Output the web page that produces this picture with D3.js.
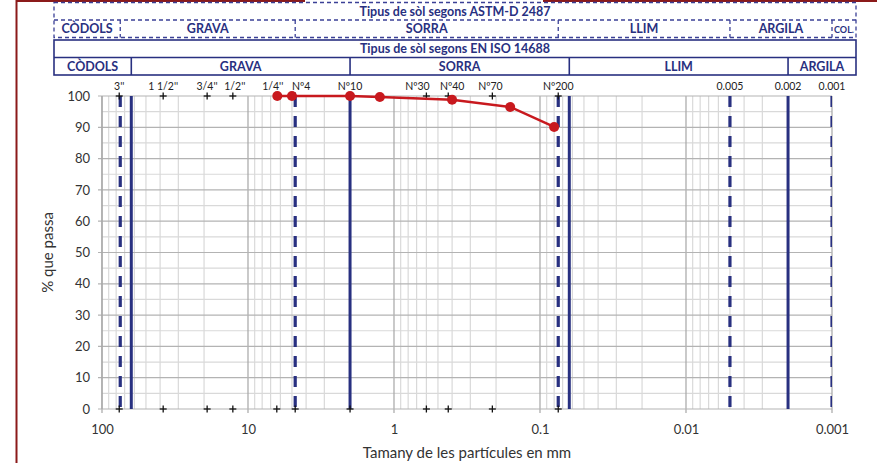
<!DOCTYPE html>
<html><head><meta charset="utf-8">
<script src="https://cdn.jsdelivr.net/npm/d3@7"></script>
<style>
html,body{margin:0;padding:0;background:#fff;}
svg{display:block;font-family:Lato,"Open Sans",sans-serif;}
</style></head>
<body>
<svg id="chart" width="877" height="463"></svg>
<script>
// ---- data ----
const xTicks = [100, 10, 1, 0.1, 0.01, 0.001];
const xTickLabels = ["100", "10", "1", "0.1", "0.01", "0.001"];
const yTicks = [0, 10, 20, 30, 40, 50, 60, 70, 80, 90, 100];
const sieveLabels = ["3''", "1 1/2''", "3/4''", "1/2''", "1/4''", "Nº4", "Nº10", "Nº30", "Nº40", "Nº70", "Nº200"];
const sieveSizes = [76.2, 38.1, 19.05, 12.7, 6.35, 4.75, 2.0, 0.6, 0.425, 0.212, 0.075];
const fineLabels = ["0.005", "0.002", "0.001"];
const fineSizes = [0.005, 0.002, 0.001];
const sampleSizes = [6.3, 5, 2, 1.25, 0.4, 0.16, 0.08];
const samplePass = [100, 100, 100, 99.7, 98.8, 96.5, 90.1];
const astmTitle = "Tipus de sòl segons ASTM-D 2487";
const astmCats = ["CÒDOLS", "GRAVA", "SORRA", "LLIM", "ARGILA", "COL."];
const astmBounds = [75, 4.75, 0.075, 0.005, 0.001];
const isoTitle = "Tipus de sòl segons EN ISO 14688";
const isoCats = ["CÒDOLS", "GRAVA", "SORRA", "LLIM", "ARGILA"];
const isoBounds = [63, 2, 0.063, 0.002];

// ---- layout ----
const W = 877, H = 463;
const plot = {l: 102, r: 832, t: 96, b: 409};
const hdr = {l: 54, r: 856};
const navy = "#283080";
// horizontal nudges (px) of sieve labels to avoid collisions, as in the reference
const sieveLabelNudge = [0, 0, 0, 2, -4, 6, 0, -9, 4, -2, 0];
const svg = d3.select("#chart");

const x = d3.scaleLog().domain([100, 0.001]).range([plot.l, plot.r]);
const y = d3.scaleLinear().domain([0, 100]).range([plot.b, plot.t]);

// frame lines (dark red)
svg.append("line").attr("x1", 16.5).attr("x2", 16.5).attr("y1", 0).attr("y2", H)
  .attr("stroke", "#8b1a1a").attr("stroke-width", 2);
svg.append("line").attr("x1", 16).attr("x2", 305).attr("y1", 1).attr("y2", 1)
  .attr("stroke", "#8b1a1a").attr("stroke-width", 2);
svg.append("line").attr("x1", 543).attr("x2", W).attr("y1", 1).attr("y2", 1)
  .attr("stroke", "#8b1a1a").attr("stroke-width", 2);

// ---- header tables ----
function headerTable(top, title, cats, bounds, dashed) {
  const g = svg.append("g");
  const rowH = 17.5;
  const edges = [hdr.l, ...bounds.map(b => x(b)), hdr.r];
  const stroke = dashed ? "#3b4096" : navy;
  const sw = dashed ? 1.3 : 1.6;
  const da = dashed ? "4,3" : null;
  g.append("rect").attr("x", hdr.l).attr("y", top).attr("width", hdr.r - hdr.l).attr("height", rowH * 2)
    .attr("fill", "none").attr("stroke", stroke).attr("stroke-width", sw).attr("stroke-dasharray", da);
  g.append("line").attr("x1", hdr.l).attr("x2", hdr.r).attr("y1", top + rowH).attr("y2", top + rowH)
    .attr("stroke", stroke).attr("stroke-width", sw).attr("stroke-dasharray", da);
  bounds.forEach(b => {
    g.append("line").attr("x1", x(b)).attr("x2", x(b)).attr("y1", top + rowH).attr("y2", top + 2 * rowH)
      .attr("stroke", stroke).attr("stroke-width", sw).attr("stroke-dasharray", da);
  });
  g.append("text").attr("x", (hdr.l + hdr.r) / 2).attr("y", top + rowH / 2 + 4.5)
    .attr("text-anchor", "middle").attr("font-weight", "bold").attr("font-size", 12.5)
    .attr("fill", navy).text(title);
  cats.forEach((c, i) => {
    g.append("text").attr("x", (edges[i] + edges[i + 1]) / 2).attr("y", top + rowH * 1.5 + 4.5)
      .attr("text-anchor", "middle").attr("font-weight", "bold")
      .attr("font-size", c === "COL." ? 9 : 12.5)
      .attr("fill", navy).text(c);
  });
}
headerTable(2.5, astmTitle, astmCats, astmBounds, true);
headerTable(40, isoTitle, isoCats, isoBounds, false);

// ---- grid ----
const grid = svg.append("g");
const minorVals = [];
for (let e = -3; e < 2; e++) for (let m = 2; m <= 9; m++) minorVals.push(m * Math.pow(10, e));
grid.selectAll(".vminor").data(minorVals).enter().append("line")
  .attr("x1", d => x(d)).attr("x2", d => x(d)).attr("y1", plot.t).attr("y2", plot.b)
  .attr("stroke", "#d9d9d9").attr("stroke-width", 1.2);
grid.selectAll(".hminor").data(d3.range(5, 100, 10)).enter().append("line")
  .attr("x1", plot.l).attr("x2", plot.r).attr("y1", d => y(d)).attr("y2", d => y(d))
  .attr("stroke", "#d9d9d9").attr("stroke-width", 1.2);
grid.selectAll(".vmajor").data(xTicks).enter().append("line")
  .attr("x1", d => x(d)).attr("x2", d => x(d)).attr("y1", plot.t).attr("y2", plot.b + 4)
  .attr("stroke", "#a6a6a6").attr("stroke-width", 1.2);
grid.selectAll(".hmajor").data(yTicks).enter().append("line")
  .attr("x1", plot.l - 4).attr("x2", plot.r).attr("y1", d => y(d)).attr("y2", d => y(d))
  .attr("stroke", "#b3b3b3").attr("stroke-width", 1.2);

// axes
const xAxis = d3.axisBottom(x).tickValues(xTicks).tickFormat((d, i) => xTickLabels[i]).tickSize(0).tickPadding(16);
const gx = svg.append("g").attr("transform", `translate(0,${plot.b})`).call(xAxis);
gx.select(".domain").remove();
gx.selectAll("text").attr("font-size", 13).attr("fill", "#333").attr("font-family", "Lato,'Open Sans',sans-serif");
const yAxis = d3.axisLeft(y).tickValues(yTicks).tickSize(0).tickPadding(12);
const gy = svg.append("g").attr("transform", `translate(${plot.l},0)`).call(yAxis);
gy.select(".domain").remove();
gy.selectAll("text").attr("font-size", 13).attr("fill", "#333").attr("font-family", "Lato,'Open Sans',sans-serif");
svg.append("line").attr("x1", plot.l).attr("x2", plot.l).attr("y1", plot.t).attr("y2", plot.b)
  .attr("stroke", "#a6a6a6").attr("stroke-width", 1.2);

// ---- boundary lines ----
svg.append("clipPath").attr("id", "pc").append("rect")
  .attr("x", plot.l).attr("y", plot.t - 2).attr("width", plot.r - plot.l).attr("height", plot.b - plot.t + 4);
const bl = svg.append("g").attr("clip-path", "url(#pc)");
bl.selectAll(".astm").data(astmBounds).enter().append("line")
  .attr("x1", d => x(d)).attr("x2", d => x(d)).attr("y1", plot.t).attr("y2", plot.b)
  .attr("stroke", navy).attr("stroke-width", 3.2).attr("stroke-dasharray", "11,9");
bl.selectAll(".iso").data(isoBounds).enter().append("line")
  .attr("x1", d => x(d)).attr("x2", d => x(d)).attr("y1", plot.t).attr("y2", plot.b)
  .attr("stroke", navy).attr("stroke-width", 3);

// ---- sieve markers & labels ----
function drawPlus(g, cx, cy) {
  g.append("line").attr("x1", cx - 3.5).attr("x2", cx + 3.5).attr("y1", cy).attr("y2", cy).attr("stroke", "#111").attr("stroke-width", 1.3);
  g.append("line").attr("x1", cx).attr("x2", cx).attr("y1", cy - 3.5).attr("y2", cy + 3.5).attr("stroke", "#111").attr("stroke-width", 1.3);
}
const sg = svg.append("g");
sieveSizes.forEach((s, i) => {
  drawPlus(sg, x(s), y(100));
  drawPlus(sg, x(s), y(0));
  sg.append("text").attr("x", x(s) + sieveLabelNudge[i]).attr("y", 90).attr("text-anchor", "middle")
    .attr("font-size", 10.5).attr("fill", "#222").text(sieveLabels[i]);
});
fineSizes.forEach((s, i) => {
  sg.append("text").attr("x", x(s)).attr("y", 90).attr("text-anchor", "middle")
    .attr("font-size", 10.5).attr("fill", "#222").text(fineLabels[i]);
});

// ---- sample curve ----
const pts = sampleSizes.map((s, i) => [s, samplePass[i]]);
svg.append("path").datum(pts)
  .attr("d", d3.line().x(d => x(d[0])).y(d => y(d[1])))
  .attr("fill", "none").attr("stroke", "#c8191e").attr("stroke-width", 2.5);
svg.selectAll(".pt").data(pts).enter().append("circle")
  .attr("cx", d => x(d[0])).attr("cy", d => y(d[1])).attr("r", 5)
  .attr("fill", "#c8191e");

// ---- axis titles ----
svg.append("text").attr("x", (plot.l + plot.r) / 2).attr("y", 458).attr("text-anchor", "middle")
  .attr("font-size", 15).attr("fill", "#333").text("Tamany de les partícules en mm");
svg.append("text").attr("transform", `translate(53,${(plot.t + plot.b) / 2}) rotate(-90)`)
  .attr("text-anchor", "middle").attr("font-size", 15).attr("fill", "#333").text("% que passa");
</script>
</body></html>
